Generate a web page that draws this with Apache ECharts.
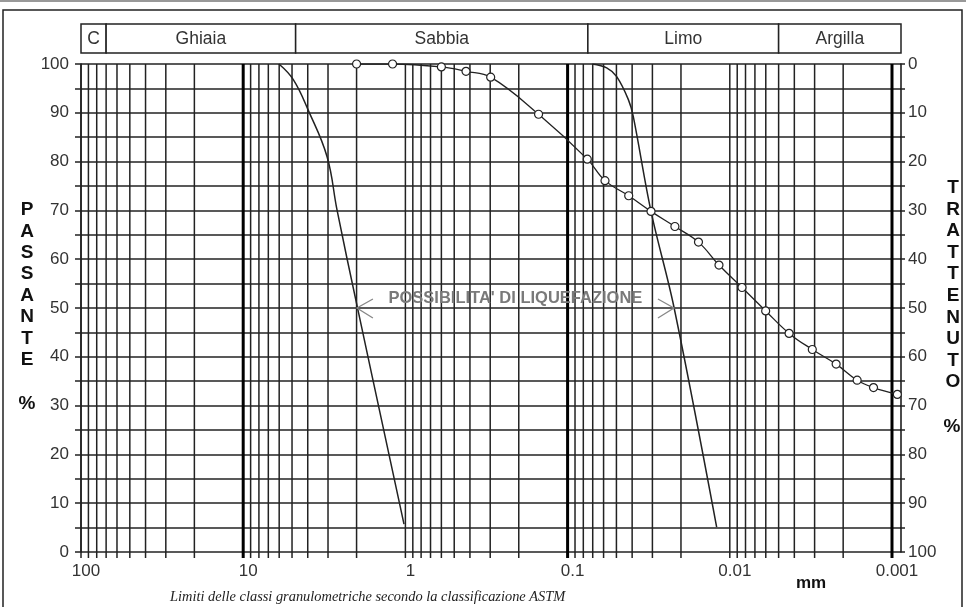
<!DOCTYPE html>
<html>
<head>
<meta charset="utf-8">
<script src="https://cdn.jsdelivr.net/npm/echarts@6/dist/echarts.min.js"></script>
<style>
html,body{margin:0;padding:0;background:#fff;}
#chart{width:966px;height:607px;}
</style>
</head>
<body>
<div id="chart"></div>
<script>
// ---- data ----
const sieveDiam = [2.0, 1.2, 0.6, 0.423, 0.298, 0.151, 0.0756, 0.0588, 0.042, 0.0306, 0.0218, 0.0156, 0.01166, 0.00841, 0.00601, 0.00431, 0.0031, 0.00221, 0.00164, 0.0013, 0.000927];
const passante  = [100, 100, 99.4, 98.5, 97.3, 89.7, 80.5, 76.1, 73.0, 69.8, 66.7, 63.5, 58.8, 54.2, 49.4, 44.8, 41.5, 38.5, 35.2, 33.7, 32.3];

const liqCoarseDiam = [6.02, 4.91, 3.98, 3.04, 2.64, 1.99, 1.02];
const liqCoarsePass = [100, 96.8, 90.6, 81.0, 70.1, 50.6, 5.7];
const liqFineDiam   = [0.0704, 0.0574, 0.0498, 0.0422, 0.0394, 0.0306, 0.0221, 0.01205];
const liqFinePass   = [100, 99.2, 97.4, 92.7, 89.3, 69.8, 50.2, 5.1];

const liqArrowLevel = 50;
const liqArrowDiam = [1.99, 0.0221];
const liqText = "POSSIBILITA' DI LIQUEFAZIONE";

const classNames  = ['C', 'Ghiaia', 'Sabbia', 'Limo', 'Argilla'];
const classBounds = [100, 70, 4.75, 0.075, 0.005, 0.00088];

const xMin = 0.00088, xMax = 100;
const gridDiam = [100,90,80,70,60,50,40,30,20,10,
  9,8,7,6,5,4,3,2,1,
  0.9,0.8,0.7,0.6,0.5,0.4,0.3,0.2,0.1,
  0.09,0.08,0.07,0.06,0.05,0.04,0.03,0.02,0.01,
  0.009,0.008,0.007,0.006,0.005,0.004,0.003,0.002,0.001];
const majorLines = [10, 0.1, 0.001];

const FONT = '"Liberation Sans", Arial, sans-serif';

function fmtDiam(v){
  const l = Math.log10(v);
  const e = Math.round(l);
  if (Math.abs(l - e) > 1e-6) return '';
  if (e >= 0) return String(Math.pow(10, e));
  return Math.pow(10, e).toFixed(-e);
}

const chart = echarts.init(document.getElementById('chart'), null, {renderer:'canvas'});

const option = {
  animation: false,
  backgroundColor: '#fff',
  grid: [
    {left: 81, right: 65, top: 64, bottom: 55},
    {left: 81, right: 65, top: 24, height: 29}
  ],
  xAxis: [
    {
      type: 'log', logBase: 10, min: xMin, max: xMax, inverse: true, gridIndex: 0,
      axisLine: {show: false}, axisTick: {show: false}, splitLine: {show: false},
      axisLabel: {interval: 0, formatter: fmtDiam, fontSize: 17, color: '#333', fontFamily: FONT, margin: 11, padding: [0,0,0,10]}
    },
    {
      type: 'log', logBase: 10, min: xMin, max: xMax, inverse: true, gridIndex: 1, show: false
    }
  ],
  yAxis: [
    {
      type: 'value', min: 0, max: 100, interval: 5, gridIndex: 0, position: 'left',
      axisLine: {show: true, lineStyle: {color: '#111', width: 1.5}},
      axisTick: {show: true, length: 6, interval: 0, lineStyle: {color: '#222', width: 1.5}},
      splitLine: {show: true, lineStyle: {color: '#222', width: 1.5}},
      axisLabel: {formatter: v => (v % 10 === 0 ? String(v) : ''), fontSize: 17, color: '#333', fontFamily: FONT, margin: 12}
    },
    {
      type: 'value', min: 0, max: 100, interval: 5, gridIndex: 0, position: 'right', inverse: true,
      axisLine: {show: true, lineStyle: {color: '#111', width: 1.5}},
      axisTick: {show: true, length: 4, interval: 0, lineStyle: {color: '#222', width: 1.5}},
      splitLine: {show: false},
      axisLabel: {formatter: v => (v % 10 === 0 ? String(v) : ''), fontSize: 17, color: '#333', fontFamily: FONT, margin: 7}
    },
    {
      type: 'value', min: 0, max: 1, gridIndex: 1, show: false
    }
  ],
  series: [
    {
      type: 'custom', name: 'vgrid', xAxisIndex: 0, yAxisIndex: 0, z: 1, silent: true,
      data: gridDiam.map(v => [v, 0]),
      encode: {x: 0, y: 1},
      renderItem: function(params, api){
        const v = gridDiam[params.dataIndex];
        const t = api.coord([v, 100]);
        const b = api.coord([v, 0]);
        const major = majorLines.indexOf(v) >= 0;
        return {
          type: 'line',
          shape: {x1: t[0], y1: t[1], x2: b[0], y2: b[1] + 6},
          style: {stroke: major ? '#000' : '#222', lineWidth: major ? 3 : 1.5}
        };
      }
    },
    {
      type: 'custom', name: 'classes', xAxisIndex: 1, yAxisIndex: 2, silent: true,
      data: classNames.map((n, i) => [classBounds[i], classBounds[i+1], 0]),
      encode: {x: [0, 1], y: 2},
      renderItem: function(params, api){
        const i = params.dataIndex;
        const a = api.coord([classBounds[i], 1]);
        const b = api.coord([classBounds[i+1], 0]);
        return {
          type: 'group',
          children: [
            {type: 'rect', shape: {x: a[0], y: a[1], width: b[0]-a[0], height: b[1]-a[1]},
             style: {fill: '#fff', stroke: '#222', lineWidth: 1.5}},
            {type: 'text', style: {text: classNames[i], x: (a[0]+b[0])/2, y: (a[1]+b[1])/2 + 1,
             align: 'center', verticalAlign: 'middle', fontSize: 17.5, fontFamily: FONT, fill: '#333'}}
          ]
        };
      }
    },
    {
      type: 'line', name: 'liqCoarse', xAxisIndex: 0, yAxisIndex: 0, z: 3,
      data: liqCoarseDiam.map((d, i) => [d, liqCoarsePass[i]]),
      smooth: 0.4, showSymbol: false, symbol: 'none',
      lineStyle: {color: '#222', width: 1.5}
    },
    {
      type: 'line', name: 'liqFine', xAxisIndex: 0, yAxisIndex: 0, z: 3,
      data: liqFineDiam.map((d, i) => [d, liqFinePass[i]]),
      smooth: 0.35, showSymbol: false, symbol: 'none',
      lineStyle: {color: '#222', width: 1.5}
    },
    {
      type: 'line', name: 'Passante', xAxisIndex: 0, yAxisIndex: 0, z: 4,
      data: sieveDiam.map((d, i) => [d, passante[i]]),
      smooth: 0.4, symbol: 'circle', symbolSize: 8, showAllSymbol: true,
      itemStyle: {color: '#fff', borderColor: '#222', borderWidth: 1.2},
      lineStyle: {color: '#222', width: 1.3}
    }
  ]
};
chart.setOption(option);

// annotation positioned through the axes
const pL = chart.convertToPixel({xAxisIndex: 0, yAxisIndex: 0}, [liqArrowDiam[0], liqArrowLevel]);
const pR = chart.convertToPixel({xAxisIndex: 0, yAxisIndex: 0}, [liqArrowDiam[1], liqArrowLevel]);
const graySt = {stroke: '#888', lineWidth: 1.3, fill: null};

chart.setOption({
  graphic: [
    {type: 'rect', shape: {x: 3, y: 10, width: 959, height: 620}, style: {fill: null, stroke: '#222', lineWidth: 1.5}, z: 0, silent: true},
    {type: 'line', shape: {x1: 0, y1: 1, x2: 966, y2: 1}, style: {stroke: '#999', lineWidth: 2}, silent: true},
    {type: 'polyline', shape: {points: [[pL[0]+16, pL[1]-9], [pL[0], pL[1]], [pL[0]+16, pL[1]+10]]}, style: graySt, z: 5, silent: true},
    {type: 'polyline', shape: {points: [[pR[0]-16, pR[1]-9], [pR[0], pR[1]], [pR[0]-16, pR[1]+10]]}, style: graySt, z: 5, silent: true},
    {type: 'text', x: (pL[0]+pR[0])/2, y: pL[1] - 9.5, z: 1, silent: true,
     style: {text: liqText, align: 'center', verticalAlign: 'middle', font: 'bold 16.5px ' + FONT, fill: '#7a7a7a'}},
    {type: 'text', x: 27, y: 199.3, silent: true,
     style: {text: 'P\nA\nS\nS\nA\nN\nT\nE', align: 'center', verticalAlign: 'top', font: 'bold 19px ' + FONT, lineHeight: 21.4, fill: '#111'}},
    {type: 'text', x: 27, y: 404, silent: true,
     style: {text: '%', align: 'center', verticalAlign: 'middle', font: 'bold 19px ' + FONT, fill: '#111'}},
    {type: 'text', x: 953, y: 177.2, silent: true,
     style: {text: 'T\nR\nA\nT\nT\nE\nN\nU\nT\nO', align: 'center', verticalAlign: 'top', font: 'bold 19px ' + FONT, lineHeight: 21.55, fill: '#111'}},
    {type: 'text', x: 952, y: 427, silent: true,
     style: {text: '%', align: 'center', verticalAlign: 'middle', font: 'bold 19px ' + FONT, fill: '#111'}},
    {type: 'text', x: 811, y: 583, silent: true,
     style: {text: 'mm', align: 'center', verticalAlign: 'middle', font: 'bold 17px ' + FONT, fill: '#111'}},
    {type: 'text', x: 170, y: 597, silent: true,
     style: {text: 'Limiti delle classi granulometriche secondo la classificazione ASTM', align: 'left', verticalAlign: 'middle', font: 'italic 14.4px "Liberation Serif", "Times New Roman", serif', fill: '#222'}}
  ]
});
</script>
</body>
</html>
